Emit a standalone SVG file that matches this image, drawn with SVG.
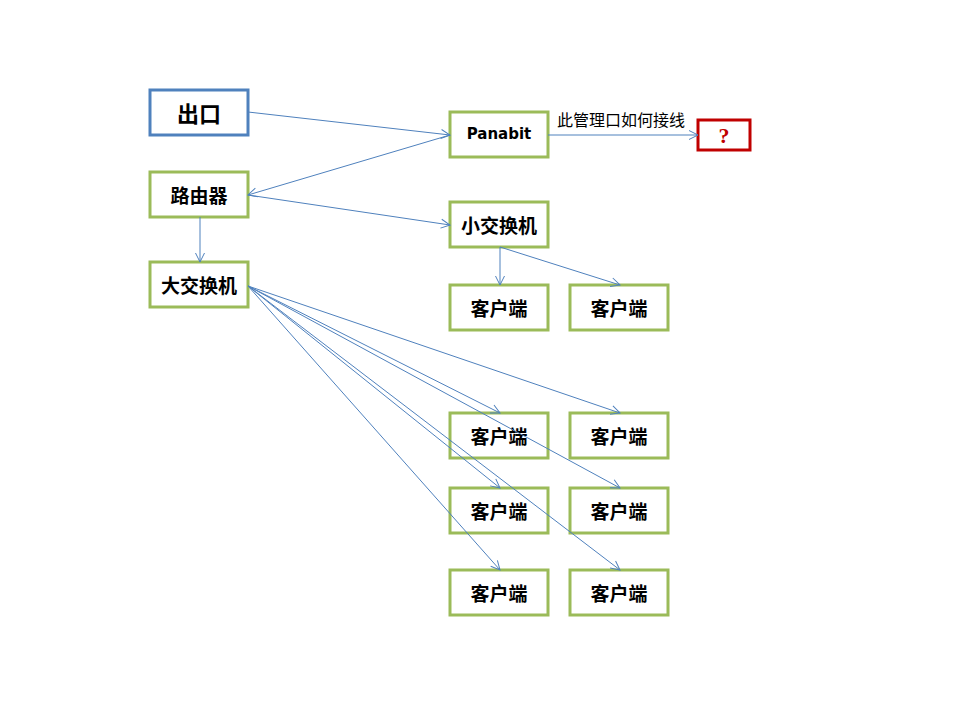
<svg xmlns="http://www.w3.org/2000/svg" width="960" height="720" viewBox="0 0 960 720">
<style>
.box{fill:#fff;stroke:#9BBB59;stroke-width:3}
.blue{fill:#fff;stroke:#4F81BD;stroke-width:3}
.red{fill:#fff;stroke:#C00000;stroke-width:3}
.t{font-family:"Noto Sans CJK SC","Liberation Sans",sans-serif;font-weight:bold;font-size:19px;fill:#000;text-anchor:middle;dominant-baseline:central}
.pa{font-family:"DejaVu Sans","Liberation Sans",sans-serif;font-weight:bold;font-size:15px;fill:#000;text-anchor:middle;dominant-baseline:central}
.lbl{font-family:"Noto Sans CJK SC","Liberation Sans",sans-serif;font-size:16px;fill:#000}
.c{stroke:#4F81BD;stroke-width:1;fill:none;marker-end:url(#a)}
</style>
<defs>
<marker id="a" markerUnits="userSpaceOnUse" markerWidth="12" markerHeight="12" refX="10" refY="5" orient="auto" viewBox="0 0 12 10">
<path d="M1,0.5 L10,5 L1,9.5" fill="none" stroke="#4F81BD" stroke-width="1"/>
</marker>
</defs>
<rect width="960" height="720" fill="#fff"/>
<g id="chukou"><rect class="blue" x="150" y="90" width="98" height="45"/><text class="t" x="199" y="112" style="font-size:22px">出口</text></g>
<g id="panabit"><rect class="box" x="450" y="112" width="98" height="45"/><text class="pa" x="499" y="134">Panabit</text></g>
<g id="q"><rect class="red" x="698" y="120" width="52" height="30"/><text class="t" x="724" y="135" style="fill:#C00000;font-family:'Liberation Serif',serif;font-size:22px">?</text></g>
<g id="router"><rect class="box" x="150" y="172" width="98" height="45"/><text class="t" x="199" y="194">路由器</text></g>
<g id="smallswitch"><rect class="box" x="450" y="202" width="98" height="45"/><text class="t" x="499" y="224">小交换机</text></g>
<g id="bigswitch"><rect class="box" x="150" y="262" width="98" height="45"/><text class="t" x="199" y="284">大交换机</text></g>
<g id="c1"><rect class="box" x="450" y="285" width="98" height="45"/><text class="t" x="499" y="307">客户端</text></g>
<g id="c2"><rect class="box" x="570" y="285" width="98" height="45"/><text class="t" x="619" y="307">客户端</text></g>
<g id="c3"><rect class="box" x="450" y="413" width="98" height="45"/><text class="t" x="499" y="435">客户端</text></g>
<g id="c4"><rect class="box" x="570" y="413" width="98" height="45"/><text class="t" x="619" y="435">客户端</text></g>
<g id="c5"><rect class="box" x="450" y="488" width="98" height="45"/><text class="t" x="499" y="510">客户端</text></g>
<g id="c6"><rect class="box" x="570" y="488" width="98" height="45"/><text class="t" x="619" y="510">客户端</text></g>
<g id="c7"><rect class="box" x="450" y="570" width="98" height="45"/><text class="t" x="499" y="592">客户端</text></g>
<g id="c8"><rect class="box" x="570" y="570" width="98" height="45"/><text class="t" x="619" y="592">客户端</text></g>
<g id="connectors">
<line class="c" x1="248" y1="112" x2="450" y2="135"/>
<line class="c" x1="450" y1="135" x2="248" y2="195"/>
<line class="c" x1="248" y1="195" x2="450" y2="225"/>
<line class="c" x1="200" y1="217" x2="200" y2="262"/>
<line class="c" x1="548" y1="135" x2="698" y2="135"/>
<line class="c" x1="500" y1="247" x2="500" y2="285"/>
<line class="c" x1="500" y1="247" x2="620" y2="285"/>
<line class="c" x1="248" y1="286" x2="500" y2="413"/>
<line class="c" x1="248" y1="286" x2="620" y2="413"/>
<line class="c" x1="248" y1="286" x2="500" y2="488"/>
<line class="c" x1="248" y1="286" x2="620" y2="488"/>
<line class="c" x1="248" y1="286" x2="500" y2="570"/>
<line class="c" x1="248" y1="286" x2="620" y2="570"/>
<text class="lbl" x="557" y="126">此管理口如何接线</text>
</g>
</svg>
